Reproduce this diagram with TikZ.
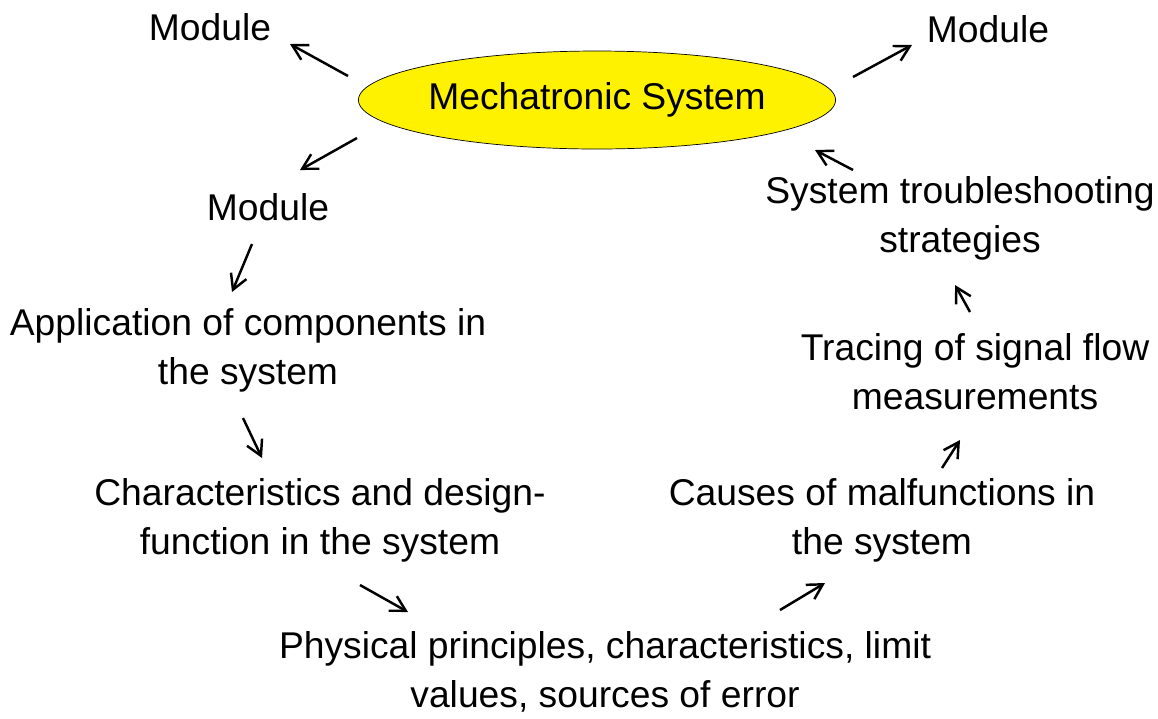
\documentclass[tikz,border=0pt]{standalone}
\usepackage{fontspec}
\setmainfont{Liberation Sans}
\usetikzlibrary{positioning,shapes,calc,arrows.meta}

\begin{document}
\begin{tikzpicture}[x=0.02cm,y=-0.02cm,align=center]
    \tikzstyle{topic} = [inner sep=0pt,font=\fontsize{21.2pt}{27.9pt}\selectfont]
    \tikzstyle{core} = [topic,draw,fill=yellow,ellipse,minimum width=9.42cm,minimum height=1.96cm]
    \tikzstyle{flow} = [-{Straight Barb[length=8.5pt,width=9.5pt]},line width=1.4pt]
    \useasboundingbox (0,0) rectangle (1158,718);
      \node[core] (mech) at (597,100) {Mechatronic System};
      \node[topic] (modTL) at (210,27) {Module};
      \node[topic] (modTR) at (988,29) {Module};
      \node[topic] (modL) at (268,207) {Module};
      \node[topic] (app) at (248,350) {Application of components in\\the system};
      \node[topic] (char) at (320,520) {Characteristics and design-\\function in the system};
      \node[topic] (phys) at (605,672) {Physical principles, characteristics, limit\\values, sources of error};
      \node[topic] (cause) at (882,520) {Causes of malfunctions in\\the system};
      \node[topic] (trace) at (975,372) {Tracing of signal flow\\measurements};
      \node[topic] (trouble) at (960,218) {System troubleshooting\\strategies};
      \draw[flow] ($ (mech)+(-249,-24) $) -- ($ (modTL)+(80,17) $);
      \draw[flow] ($ (mech)+(256,-23) $) -- ($ (modTR)+(-76,16) $);
      \draw[flow] ($ (mech)+(-240,38) $) -- ($ (modL)+(32,-37) $);
      \draw[flow] ($ (modL)+(-16,37) $) -- ($ (app)+(-16,-58) $);
      \draw[flow] ($ (app)+(-5,68) $) -- ($ (char)+(-58,-62) $);
      \draw[flow] ($ (char)+(40,65) $) -- ($ (phys)+(-197,-60) $);
      \draw[flow] ($ (phys)+(175,-62) $) -- ($ (cause)+(-57,63) $);
      \draw[flow] ($ (cause)+(60,-52) $) -- ($ (trace)+(-15,68) $);
      \draw[flow] ($ (trace)+(-5,-60) $) -- ($ (trouble)+(-5,67) $);
      \draw[flow] ($ (trouble)+(-107,-48) $) -- ($ (mech)+(218,50) $);
  \end{tikzpicture}
\end{document}
